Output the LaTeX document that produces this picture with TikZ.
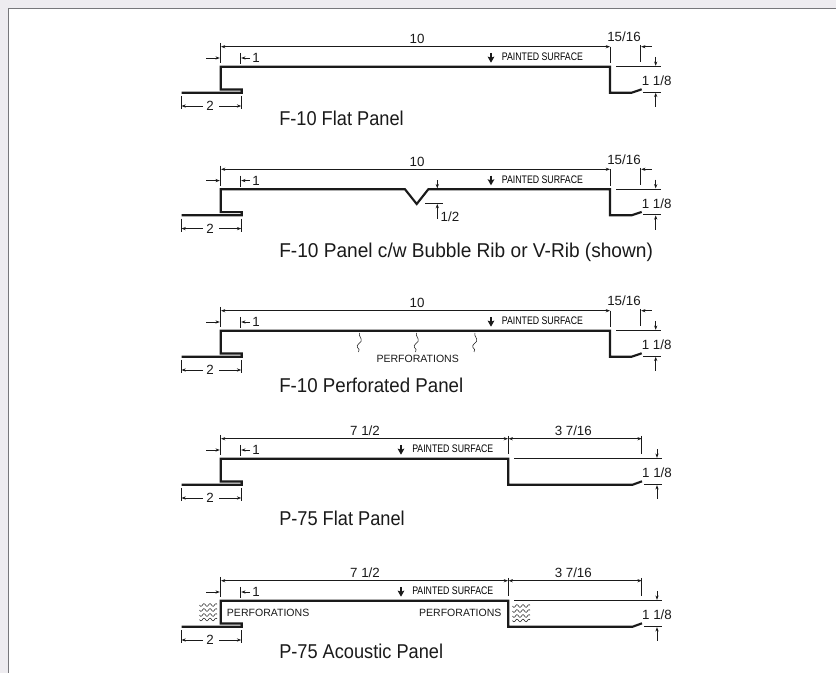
\documentclass[tikz,border=0pt]{standalone}
\usepackage{fontspec}
\setmainfont{Liberation Sans}
\newfontfamily\narrowfnt[FakeStretch=0.8]{Liberation Sans}
\newfontfamily\titlefnt[FakeStretch=0.91]{Liberation Sans}
\newfontfamily\titlefntw[FakeStretch=0.955]{Liberation Sans}
\newfontfamily\titlefntm[FakeStretch=0.935]{Liberation Sans}
\usetikzlibrary{arrows.meta}
\definecolor{bgband}{HTML}{EEECF0}
\definecolor{framegrey}{HTML}{77777B}
\definecolor{ink}{HTML}{1A1A1A}
\tikzset{
  panelline/.style={draw=ink,line width=1.6pt,line join=miter,line cap=butt},
  dimline/.style={draw=ink,line width=0.75pt},
  tickline/.style={draw=ink,line width=0.75pt},
  dimarrow/.style={draw=ink,line width=0.6pt,-{Stealth[length=3.2pt,width=2.4pt]}},
  fatarrow/.style={draw=ink,line width=1.1pt,-{Stealth[length=4.5pt,width=5pt,inset=0.8pt]}},
  wavy/.style={draw=ink,line width=0.4pt},
  dimlabel/.style={font=\fontsize{10}{12}\selectfont,text=ink,inner sep=0pt},
  smalllabel/.style={font=\fontsize{7.9}{9}\selectfont,text=ink,inner sep=0pt},
  paintlabel/.style={font=\narrowfnt\fontsize{8.2}{10}\selectfont,text=black,inner sep=0pt,anchor=west},
  titlelabel/.style={font=\fontsize{15}{18}\selectfont,text=ink,inner sep=0pt,anchor=west},
}
% Left lip profile and its dimensions
\newcommand{\leftdims}{%
  \draw[tickline] (220.5,43) -- (220.5,63);
  \draw[dimarrow] (206,58) -- (219.8,58);
  \draw[tickline] (240.7,53) -- (240.7,64);
  \draw[dimarrow] (250,58) -- (241.2,58);
  \node[dimlabel] (one) at (256,58) {1};
  \draw[tickline] (181,96) -- (181,109);
  \draw[tickline] (241.7,96) -- (241.7,109);
  \draw[dimarrow] (203,106) -- (181.5,106);
  \draw[dimarrow] (219,106) -- (241.2,106);
  \node[dimlabel] (two) at (210,106) {2};
}
% Common parts of the F-10 panel: offset, title, title y
\newcommand{\ftenpanel}[3]{%
  \begin{scope}[shift={(0,#1)}]
    \leftdims
    \draw[dimline,{Stealth[length=3.2pt,width=2.4pt]}-{Stealth[length=3.2pt,width=2.4pt]}] (221,46.7) -- (610,46.7);
    \node[dimlabel] (ten) at (417,39) {10};
    \draw[tickline] (610,46.7) -- (610,63);
    \node[dimlabel] (frac) at (624,37) {15/16};
    \draw[tickline] (640.7,45) -- (640.7,62);
    \draw[dimarrow] (651.7,46.7) -- (641.2,46.7);
    \draw[dimline,line width=0.9pt] (616,66.7) -- (660.7,66.7);
    \draw[dimarrow] (655.7,57) -- (655.7,65.8);
    \node[dimlabel] (ob) at (656.7,80.7) {1 1/8};
    \draw[dimline] (643,92.3) -- (660.7,92.3);
    \draw[dimarrow] (655.7,107) -- (655.7,92.8);
    \draw[fatarrow] (491,53) -- (491,62.7);
    \node[paintlabel] (ps) at (501.7,57) {PAINTED SURFACE};
    \node[titlelabel] (ttl) at (279,#3) {#2};
  \end{scope}}
% Common parts of the P-75 panel: offset, title, title y
\newcommand{\pseven}[3]{%
  \begin{scope}[shift={(0,#1)}]
    \draw[dimline,{Stealth[length=3.2pt,width=2.4pt]}-{Stealth[length=3.2pt,width=2.4pt]}] (221,46.7) -- (508,46.7);
    \draw[dimline,{Stealth[length=3.2pt,width=2.4pt]}-{Stealth[length=3.2pt,width=2.4pt]}] (508.6,46.7) -- (641.7,46.7);
    \leftdims
    \node[dimlabel] (seven) at (365,39) {7 1/2};
    \node[dimlabel] (three) at (573.3,39) {3 7/16};
    \draw[tickline] (508.3,44) -- (508.3,61.7);
    \draw[tickline] (641.7,44) -- (641.7,61.7);
    \draw[dimline,line width=0.9pt] (514,66.7) -- (661.7,66.7);
    \draw[dimarrow] (657,57.5) -- (657,65.8);
    \node[dimlabel] (ob) at (657,80.7) {1 1/8};
    \draw[dimline] (644,92.7) -- (661.7,92.7);
    \draw[dimarrow] (657,106.7) -- (657,93.2);
    \draw[fatarrow] (401,53) -- (401,62.7);
    \node[paintlabel] (ps) at (412,57) {PAINTED SURFACE};
    \node[titlelabel] (ttl) at (279,#3) {#2};
  \end{scope}}
\newcommand{\lipend}{(181.7,92.7) -- (241.7,92.7) -- (241.7,89.5) -- (220.7,89.5) -- (220.7,66.7)}
\newcommand{\hwave}[3]{\draw[wavy,shift={(#1,#2)}] plot[domain=0:#3,samples=37,smooth] (\x,{1.3*sin(\x*60)});}
\newcommand{\vsquig}[2]{\draw[wavy] (#1,#2) .. controls (#1-1.5,#2+3) and (#1+3,#2+5) .. (#1+1.5,#2+8.5) .. controls (#1,#2+11) and (#1-3.5,#2+12) .. (#1-2,#2+14.5) .. controls (#1-1,#2+16) and (#1+1,#2+17) .. (#1-1,#2+19);}
\begin{document}
\begin{tikzpicture}[x=0.75pt,y=-0.75pt]
\useasboundingbox (0,0) rectangle (836,673);
\fill[bgband] (0,0) rectangle (836,673);
\fill[white] (8,8) rectangle (836,673);
\fill[framegrey] (7.5,8) rectangle (836,9.5);
\fill[framegrey] (7.5,8) rectangle (9,673);

% F-10 flat panel
\ftenpanel{0}{\titlefnt F-10 Flat Panel}{118}
\draw[panelline] \lipend -- (610,66.7) -- (610,92.7) -- (631.7,92.7) -- (641.7,89.3);

% F-10 rib panel
\ftenpanel{122.6}{\titlefntw F-10 Panel c/w Bubble Rib or V-Rib (shown)}{129.4}
\draw[panelline,shift={(0,122.6)}] \lipend -- (405,66.7) -- (416.7,81.4) -- (428.3,66.7) -- (610,66.7) -- (610,92.7) -- (631.7,92.7) -- (641.7,89.3);
\draw[dimarrow] (437.3,180.5) -- (437.3,188.3);
\draw[dimline] (425,203.3) -- (442.7,203.3);
\draw[dimarrow] (437.3,219) -- (437.3,204);
\node[dimlabel] (half) at (450,216.5) {1/2};

% F-10 perforated panel
\ftenpanel{264}{\titlefntm F-10 Perforated Panel}{121}
\draw[panelline,shift={(0,264)}] \lipend -- (610,66.7) -- (610,92.7) -- (631.7,92.7) -- (641.7,89.3);
\vsquig{359.5}{333}
\vsquig{416.5}{333}
\vsquig{475}{333}
\node[smalllabel] (perfmid) at (417.7,359) {PERFORATIONS};

% P-75 flat panel
\pseven{392}{\titlefnt P-75 Flat Panel}{126}
\draw[panelline,shift={(0,392)}] \lipend -- (508.3,66.7) -- (508.3,92.7) -- (632.7,92.7) -- (642,89.3);

% P-75 acoustic panel
\pseven{534}{\titlefnt P-75 Acoustic Panel}{117.7}
\draw[panelline,shift={(0,534)}] \lipend -- (508.3,66.7) -- (508.3,92.7) -- (632.7,92.7) -- (642,89.3);
\node[smalllabel,anchor=west] (perfl) at (226.7,613.3) {PERFORATIONS};
\node[smalllabel,anchor=east] (perfr) at (501.7,613.3) {PERFORATIONS};
\hwave{199.5}{605}{17.5}
\hwave{199.5}{610}{17.5}
\hwave{199.5}{615}{17.5}
\hwave{199.5}{619.5}{17.5}
\hwave{512.5}{606}{17.5}
\hwave{512.5}{611}{17.5}
\hwave{512.5}{616}{17.5}
\hwave{512.5}{620.5}{17.5}
\end{tikzpicture}
\end{document}
